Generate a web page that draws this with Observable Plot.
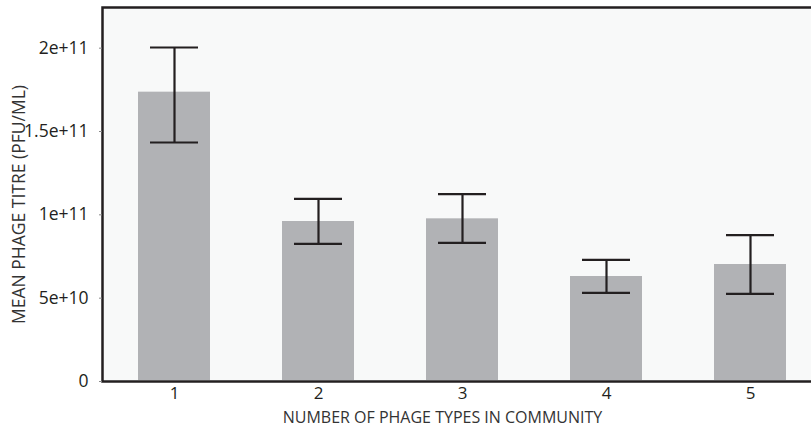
<!DOCTYPE html>
<html>
<head>
<meta charset="utf-8">
<script src="https://cdn.jsdelivr.net/npm/d3@7"></script>
<script src="https://cdn.jsdelivr.net/npm/@observablehq/plot@0.6"></script>
<style>
  html, body { margin: 0; padding: 0; background: #ffffff; overflow: hidden; }
  #chart { width: 811px; height: 427px; overflow: hidden; }
  svg { font-family: "Open Sans", sans-serif; }
</style>
</head>
<body>
<div id="chart"></div>
<script>
// Mean phage titre by number of phage types in the community
const phageTypes = ["1", "2", "3", "4", "5"];
const meanTitre  = [1.736e11, 9.6e10, 9.76e10, 6.3e10, 7.02e10];
const errLow     = [1.434e11, 8.26e10, 8.32e10, 5.32e10, 5.26e10];
const errHigh    = [2.004e11, 1.096e11, 1.124e11, 7.3e10, 8.78e10];

const yTicks      = [0, 5e10, 1e11, 1.5e11, 2e11];
const yTickLabels = ["0", "5e+10", "1e+11", "1.5e+11", "2e+11"];

const xTitle = "NUMBER OF PHAGE TYPES IN COMMUNITY";
const yTitle = "MEAN PHAGE TITRE (PFU/ML)";

const rows = phageTypes.map((t, i) => ({
  type: t, mean: meanTitre[i], lo: errLow[i], hi: errHigh[i]
}));

const ink = "#231f20";
const yFormat = (d) => yTickLabels[yTicks.indexOf(d)];

// The plot panel runs past the right edge of the page, so its right border is not seen.
const chart = Plot.plot({
  width: 811,
  height: 427,
  marginLeft: 102,
  marginRight: -11,
  marginTop: 7,
  marginBottom: 46,
  style: { background: "transparent", color: ink, fontFamily: "'Open Sans', sans-serif", overflow: "hidden" },
  x: {
    type: "band",
    domain: phageTypes,
    paddingInner: 0.5,
    paddingOuter: 0.25
  },
  y: {
    domain: [0, 2.244e11]
  },
  marks: [
    Plot.frame({ fill: "#f8f9f9" }),
    Plot.barY(rows, { x: "type", y1: 0, y2: "mean", fill: "#b1b2b5", insetBottom: 1 }),
    Plot.ruleX(rows, { x: "type", y1: "lo", y2: "hi", stroke: ink, strokeWidth: 2.2 }),
    Plot.tickY(rows, { x: "type", y: "lo", stroke: ink, strokeWidth: 2.2, insetLeft: 12, insetRight: 12 }),
    Plot.tickY(rows, { x: "type", y: "hi", stroke: ink, strokeWidth: 2.2, insetLeft: 12, insetRight: 12 }),
    Plot.frame({ stroke: ink, strokeWidth: 2.5 }),
    Plot.axisY({ ticks: yTicks, tickFormat: yFormat, tickSize: 3, tickPadding: 11, stroke: "#888", fill: ink, fontSize: 17.5, label: null }),
    Plot.axisX({ tickSize: 0, tickPadding: 5, fontSize: 17, fill: ink, label: null }),
    Plot.text([xTitle], { frameAnchor: "bottom", textAnchor: "middle", lineAnchor: "middle", dx: -20, dy: 36, text: (d) => d, fontSize: 16, fill: "#333" }),
    Plot.text([yTitle], { frameAnchor: "left", textAnchor: "middle", lineAnchor: "middle", dx: -83, dy: 10, rotate: -90, text: (d) => d, fontSize: 17.5, fill: "#333" })
  ]
});

document.getElementById("chart").appendChild(chart);
</script>
</body>
</html>
